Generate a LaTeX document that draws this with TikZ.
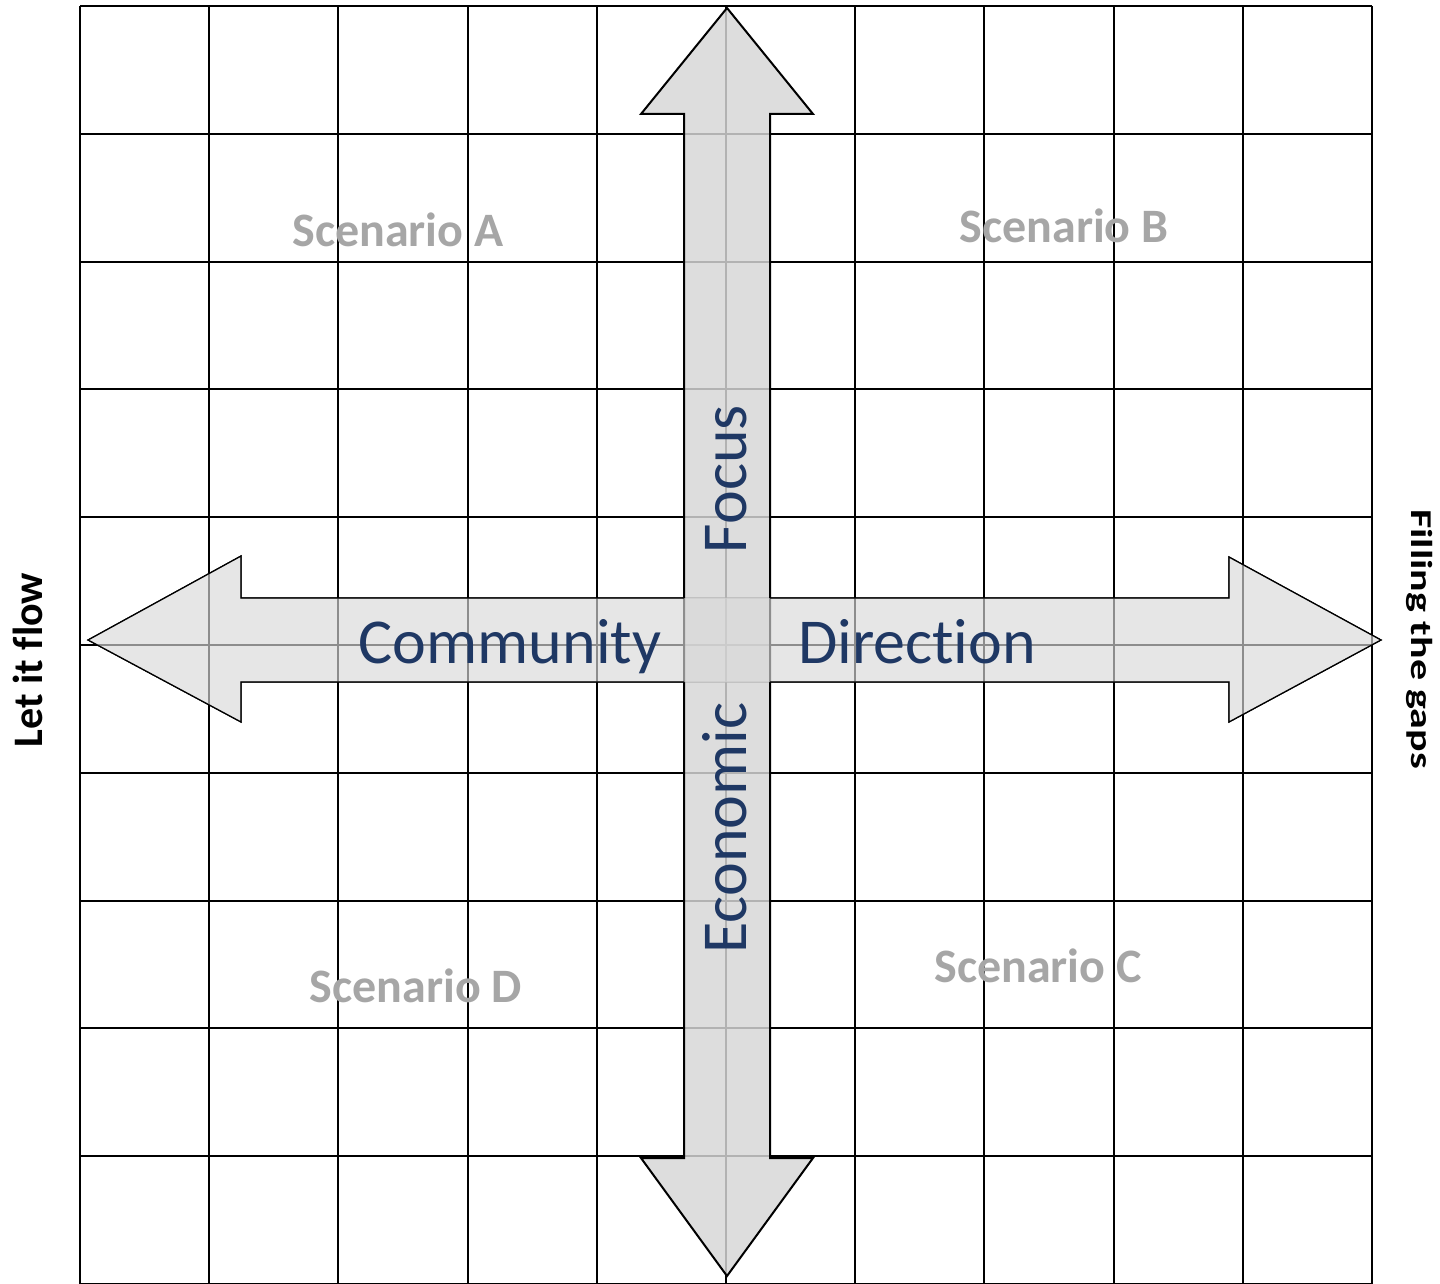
\documentclass[tikz,border=0pt]{standalone}
\usepackage{fontspec}
\setmainfont{Carlito}[RawFeature={-liga;-clig;-calt;-dlig}]
\definecolor{scengray}{RGB}{166,166,166}
\definecolor{axisblue}{RGB}{31,56,100}
\definecolor{vfill}{RGB}{215,215,215}
\definecolor{hfill}{RGB}{217,217,217}
\tikzset{
  gridline/.style={line width=1pt,black},
  scenlabel/.style={text=scengray,font=\fontsize{24}{28}\selectfont\bfseries,anchor=base,inner sep=0pt},
  axislabel/.style={text=axisblue,font=\fontsize{32}{38}\selectfont,anchor=base,inner sep=0pt},
  sidelabel/.style={font=\fontsize{21}{25}\selectfont\bfseries,anchor=base,inner sep=0pt}
}
\begin{document}
\begin{tikzpicture}[x=0.5pt,y=-0.5pt]
\useasboundingbox (0,0) rectangle (1440,1284);
\fill[white] (0,0) rectangle (1440,1284);

% grid
\foreach \i in {0,...,10}
  \draw[gridline] ({80+129.2*\i},6) -- ({80+129.2*\i},1284);
\foreach \j in {0,...,10}
  \draw[gridline] (80,{6+127.8*\j}) -- (1372,{6+127.8*\j});

% horizontal arrow outline (under the vertical one)
\draw[line width=0.6pt]
  (88,640) -- (241,556) -- (241,598) -- (1229,598) -- (1229,557) -- (1381,640)
  -- (1229,722) -- (1229,682) -- (241,682) -- (241,722) -- cycle;

% vertical arrow
\draw[line width=1pt,fill=vfill,fill opacity=0.83]
  (727,8) -- (813,114) -- (770,114) -- (770,1158) -- (813,1158) -- (727,1276)
  -- (641,1158) -- (684,1158) -- (684,114) -- (641,114) -- cycle;

% horizontal arrow fill on top
\fill[hfill,fill opacity=0.65]
  (88,640) -- (241,556) -- (241,598) -- (1229,598) -- (1229,557) -- (1381,640)
  -- (1229,722) -- (1229,682) -- (241,682) -- (241,722) -- cycle;
\begin{scope}
  \clip (0,0) rectangle (684,1284) (770,0) rectangle (1440,1284);
  \draw[line width=0.6pt]
    (88,640) -- (241,556) -- (241,598) -- (1229,598) -- (1229,557) -- (1381,640)
    -- (1229,722) -- (1229,682) -- (241,682) -- (241,722) -- cycle;
\end{scope}

% scenarios
\node[scenlabel] (scenA) at (398,246) {Scenario A};
\node[scenlabel] (scenB) at (1064,242) {Scenario B};
\node[scenlabel] (scenC) at (1038,982) {Scenario C};
\node[scenlabel] (scenD) at (416,1002) {Scenario D};

% axis texts
\node[axislabel] (community) at (510,663) {Community};
\node[axislabel] (direction) at (917,663) {Direction};
\node[axislabel,rotate=90] (focus) at (746,479) {Focus};
\node[axislabel,rotate=90] (economic) at (746,828) {Economic};

% ends
\node[sidelabel,rotate=90] (letflow) at (42,660) {Let it flow};
\node[sidelabel,rotate=-90] (fillgaps) at (1411,639) {\scalebox{1}[0.72]{Filling the gaps}};
\end{tikzpicture}
\end{document}
